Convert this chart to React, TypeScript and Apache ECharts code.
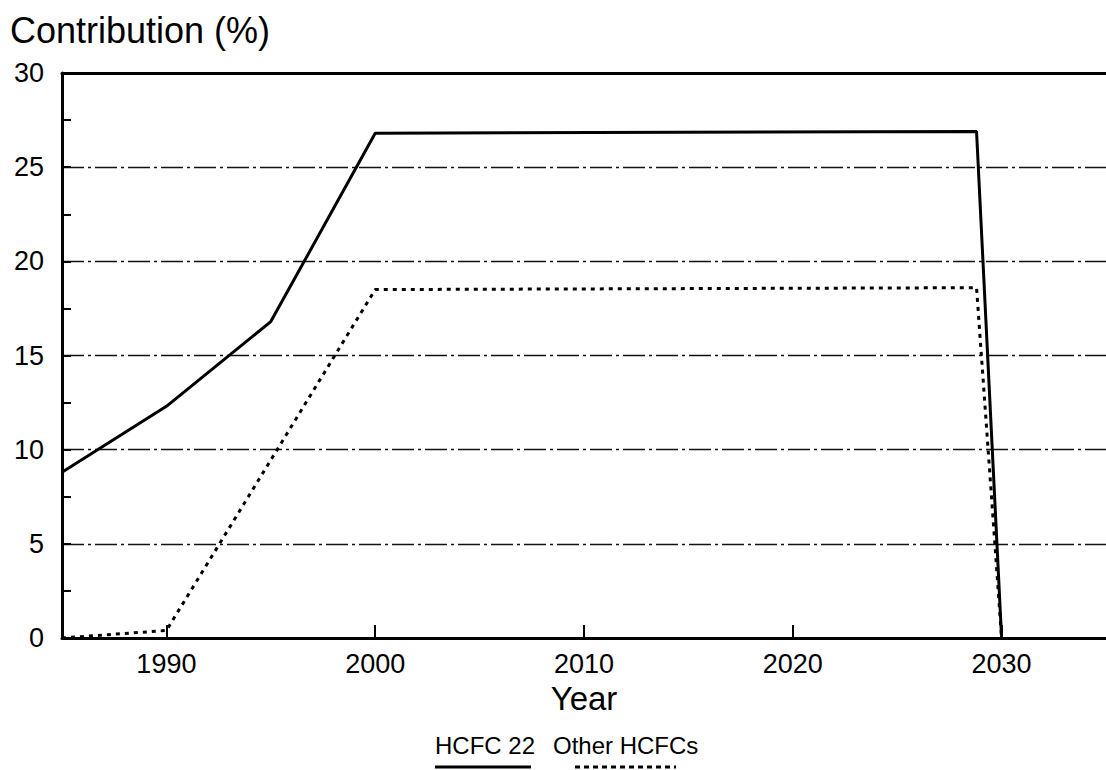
import React, { useEffect, useRef } from "react";
import * as echarts from "echarts";

// Years and contribution (%) for each HCFC group
const hcfc22Years = [1985, 1990, 1995, 2000, 2028.8, 2030];
const hcfc22Values = [8.8, 12.3, 16.8, 26.8, 26.9, 0];

const otherYears = [1985, 1990, 2000, 2028.8, 2030];
const otherValues = [0, 0.4, 18.5, 18.6, 0];

const xTickYears = [1990, 2000, 2010, 2020, 2030];
const seriesNames = ["HCFC 22", "Other HCFCs"];

const FONT = '"Liberation Sans", Arial, Helvetica, sans-serif';

export default function App() {
  const ref = useRef<HTMLDivElement>(null);

  useEffect(() => {
    document.body.style.margin = "0";
    if (!ref.current) return;
    const chart = echarts.init(ref.current, null, { renderer: "svg" });

    const pair = (xs: number[], ys: number[]) => xs.map((x, i) => [x, ys[i]]);

    chart.setOption({
      animation: false,
      backgroundColor: "#ffffff",
      grid: { left: 62, top: 73, right: -6, bottom: 132 },
      xAxis: [
        {
          type: "value",
          min: 1985,
          max: 2035,
          name: "Year",
          nameLocation: "middle",
          nameGap: 44,
          nameTextStyle: { fontFamily: FONT, fontSize: 33, color: "#000" },
          axisLine: { show: true, lineStyle: { color: "#000", width: 3 } },
          axisTick: {
            show: true,
            inside: true,
            length: 13,
            customValues: xTickYears,
            lineStyle: { color: "#000", width: 2 },
          },
          axisLabel: {
            customValues: xTickYears,
            formatter: (v: number) => String(v),
            margin: 12,
            fontFamily: FONT,
            fontSize: 27,
            color: "#000",
          },
          splitLine: { show: false },
        },
        {
          type: "value",
          position: "top",
          min: 1985,
          max: 2035,
          axisLine: { show: true, lineStyle: { color: "#000", width: 3 } },
          axisTick: { show: false },
          axisLabel: { show: false },
          splitLine: { show: false },
        },
      ],
      yAxis: {
        type: "value",
        min: 0,
        max: 30,
        interval: 5,
        axisLine: { show: true, lineStyle: { color: "#000", width: 3 } },
        axisTick: { show: true, inside: true, length: 9, lineStyle: { color: "#000", width: 2 } },
        minorTick: { show: true, splitNumber: 2, length: 9, lineStyle: { color: "#000", width: 2 } },
        axisLabel: { margin: 18, fontFamily: FONT, fontSize: 27, color: "#000" },
        splitLine: {
          show: true,
          lineStyle: { color: "#111", width: 1.3, type: [22, 4, 3, 4] },
        },
      },
      series: [
        {
          name: seriesNames[0],
          type: "line",
          data: pair(hcfc22Years, hcfc22Values),
          symbol: "none",
          lineStyle: { color: "#000", width: 3 },
          z: 3,
        },
        {
          name: seriesNames[1],
          type: "line",
          data: pair(otherYears, otherValues),
          symbol: "none",
          lineStyle: { color: "#000", width: 3, type: [4, 5], cap: "butt" },
          z: 3,
        },
      ],
      graphic: [
        {
          type: "text",
          left: 10,
          top: 12,
          style: { text: "Contribution (%)", font: `36px ${FONT}`, fill: "#000" },
        },
        {
          type: "text",
          left: 435,
          top: 733,
          style: { text: seriesNames[0], font: `24px ${FONT}`, fill: "#000" },
        },
        {
          type: "text",
          left: 553,
          top: 733,
          style: { text: seriesNames[1], font: `24px ${FONT}`, fill: "#000" },
        },
        {
          type: "line",
          shape: { x1: 435, y1: 767, x2: 531, y2: 767 },
          style: { stroke: "#000", lineWidth: 3 },
        },
        {
          type: "line",
          shape: { x1: 575, y1: 767, x2: 676, y2: 767 },
          style: { stroke: "#000", lineWidth: 3, lineDash: [5, 4] },
        },
      ],
    });

    return () => chart.dispose();
  }, []);

  return <div ref={ref} style={{ width: 1106, height: 770 }} />;
}
